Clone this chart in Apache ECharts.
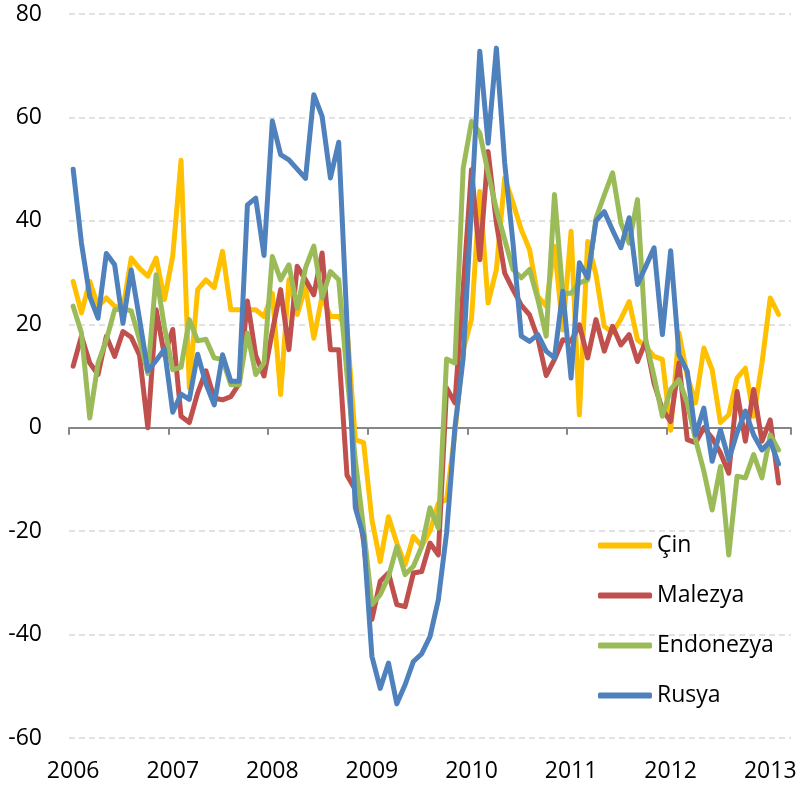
<!DOCTYPE html>
<html>
<head>
<meta charset="utf-8">
<title>Çin, Malezya, Endonezya, Rusya</title>
<script src="https://cdn.jsdelivr.net/npm/echarts@6/dist/echarts.min.js"></script>
<style>
  html, body { margin: 0; padding: 0; background: #fff; }
  #chart { width: 802px; height: 788px; }
</style>
</head>
<body>
<div id="chart"></div>
<script>
// months Jan 2006 .. Mar 2013 (last month left empty like the original)
const years = ['2006', '2007', '2008', '2009', '2010', '2011', '2012', '2013'];
const monthCount = 87;
const months = [];
for (let i = 0; i < monthCount; i++) {
  months.push(years[Math.floor(i / 12)] + '-' + String(i % 12 + 1).padStart(2, '0'));
}

const yTicks = { min: -60, max: 80, step: 20 };

const cin = [
  28.3, 22.2, 28.3, 23.5, 25.1, 23.5, 23, 32.8, 30.8, 29.3, 32.8, 24.8,
  33.2, 51.7, 7.7, 26.7, 28.6, 27.1, 34.1, 22.8, 22.8, 22.8, 22.8, 21.5,
  26, 6.4, 28.6, 21.9, 27.3, 17.3, 25.4, 21.5, 21.5, 19.3, -2.3, -2.9,
  -17.8, -25.9, -17.2, -22.3, -26.5, -21, -22.9, -20, -14.6, -13.9, -1, 15,
  21, 45.7, 24.1, 30.6, 48.3, 43.5, 38.3, 34.4, 25.4, 23.5, 35.1, 18.9,
  38, 2.5, 36, 29.6, 19.6, 18.4, 21, 24.4, 17, 15.7, 13.8, 13.2,
  -0.5, 18.3, 10, 4.8, 15.4, 11.2, 1, 2.5, 9.6, 11.5, 2.2, 12.5,
  25.1, 21.9
];

const malezya = [
  11.9, 17.7, 12.5, 10.3, 17.7, 13.8, 18.6, 17.5, 14, 0, 22.8, 14,
  19, 2.2, 1, 6.7, 11, 5.7, 5.4, 6, 8.5, 24.5, 14, 10,
  18.6, 26.7, 15.1, 31.2, 28.6, 25.7, 33.8, 15.1, 15.1, -9.2, -12, -22,
  -37.1, -29.7, -28.1, -34.2, -34.6, -28.1, -27.8, -22.3, -24.6, 7.7, 4.8, 27,
  49.9, 32.5, 53.4, 39.6, 29.9, 26.7, 23.7, 21.8, 17.3, 10.1, 13.2, 17,
  16.7, 19.9, 13.5, 20.9, 14.8, 19.6, 16, 18, 12.8, 16.7, 8.6, 3.5,
  1.2, 12.5, -2.3, -2.9, 0, -2, -4.9, -8.8, 7, -2.6, 7.4, -2.6,
  1.5, -10.7
];

const endonezya = [
  23.5, 18.3, 1.9, 12.5, 17, 22.8, 23, 22.6, 17, 10.5, 29.6, 19.5,
  11.2, 11.7, 20.9, 16.8, 17.1, 13.5, 13.2, 8.3, 8.3, 18.3, 10.3, 12.5,
  33.1, 28.6, 31.5, 23.1, 30.9, 35.1, 25.1, 30.2, 28.6, 10.2, -6.2, -19.6,
  -34.2, -32.3, -28.8, -23, -28.4, -26.8, -23, -15.5, -19.4, 13.3, 12.5, 50.2,
  59.2, 57, 49.3, 42.2, 36.4, 30.6, 29, 30.6, 24.8, 17.7, 45.1, 26,
  26, 28, 28.6, 40.5, 45, 49.3, 39.6, 35.7, 44.1, 17, 9.9, 2.2,
  7.4, 9.3, 4.8, -2.3, -8.4, -15.9, -7.5, -24.6, -9.4, -9.7, -5.2, -9.7,
  -1.4, -4.3
];

const rusya = [
  50, 35.7, 25.4, 21.2, 33.7, 31.5, 20.2, 30.5, 21, 11, 13, 15.2,
  3, 6.5, 5.5, 14.2, 8.5, 4.4, 14.1, 9, 9, 43.1, 44.4, 33.3,
  59.3, 52.8, 51.8, 50, 48.2, 64.4, 60.2, 48.3, 55.2, 20, -15.5, -21,
  -44.2, -50.4, -45.5, -53.4, -49.7, -45.2, -43.7, -40.4, -33.3, -20.3, 0, 13.5,
  43, 72.8, 55, 73.4, 51.2, 35.7, 17.7, 16.7, 18, 14.8, 13.5, 26.4,
  9.6, 31.9, 29, 40, 41.8, 38.2, 34.8, 40.6, 27.7, 31.2, 34.8, 18,
  34.2, 14.1, 10.9, -1.4, 3.8, -6.5, -0.4, -6.2, -1, 3.2, -1.4, -4.3,
  -2.6, -7
];

const seriesNames = ['Çin', 'Malezya', 'Endonezya', 'Rusya'];
const seriesData = [cin, malezya, endonezya, rusya];
const colors = ['#FFC000', '#C0504D', '#9BBB59', '#4F81BD'];

const font = '"Open Sans", "Noto Sans", sans-serif';
const isYearStart = (index) => index % 12 === 0;

const chart = echarts.init(document.getElementById('chart'));

chart.setOption({
  animation: false,
  color: colors,
  grid: { left: 69, right: 11, top: 14, bottom: 50, containLabel: false },
  legend: {
    orient: 'vertical',
    left: 593,
    top: 529,
    icon: 'roundRect',
    itemWidth: 54,
    itemHeight: 6,
    itemGap: 27,
    data: seriesNames,
    textStyle: { fontFamily: font, fontSize: 23, color: '#000', padding: [0, 0, 0, 0] }
  },
  xAxis: [
    {
      type: 'category',
      data: months,
      boundaryGap: true,
      axisLine: { onZero: true, lineStyle: { color: '#868686', width: 2 } },
      axisTick: { show: true, interval: isYearStart, length: 7, lineStyle: { color: '#868686', width: 2 } },
      axisLabel: { show: false },
      splitLine: { show: false }
    },
    {
      type: 'category',
      data: months,
      boundaryGap: true,
      position: 'bottom',
      axisLine: { show: false, onZero: false },
      axisTick: { show: false },
      axisLabel: {
        interval: isYearStart,
        margin: 22,
        fontFamily: font,
        fontSize: 23,
        color: '#000',
        formatter: (v) => v.slice(0, 4)
      },
      splitLine: { show: false }
    }
  ],
  yAxis: {
    type: 'value',
    min: yTicks.min,
    max: yTicks.max,
    interval: yTicks.step,
    axisLine: { show: false },
    axisTick: { show: false },
    axisLabel: { margin: 27, fontFamily: font, fontSize: 23, color: '#000' },
    splitLine: { lineStyle: { color: '#d9d9d9', width: 1.5, type: [6, 4] } }
  },
  series: seriesNames.map((name, k) => ({
    name: name,
    type: 'line',
    xAxisIndex: 0,
    data: seriesData[k],
    showSymbol: false,
    symbol: 'none',
    lineStyle: { width: 5, color: colors[k], join: 'round', cap: 'round' },
    itemStyle: { color: colors[k] },
    z: 2 + k
  }))
});
</script>
</body>
</html>
